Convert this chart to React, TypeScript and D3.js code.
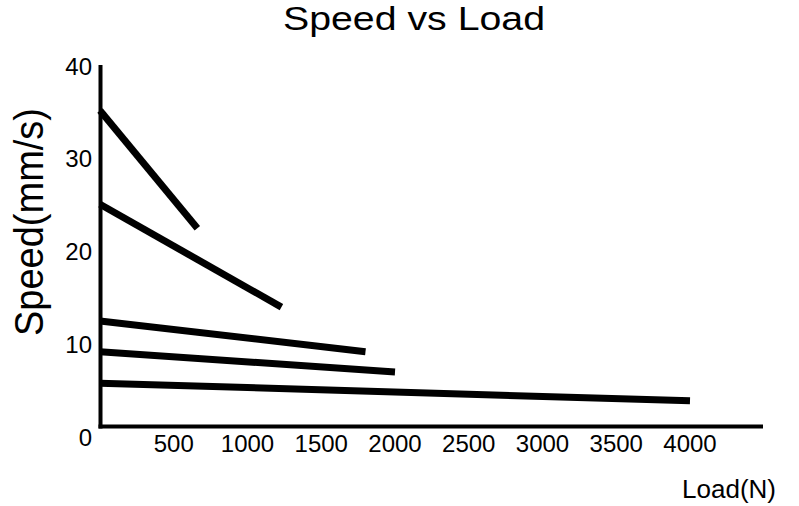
import React from "react";
import * as d3 from "d3";

const W = 799;
const H = 506;

const xTicks = [500, 1000, 1500, 2000, 2500, 3000, 3500, 4000];
const yTicks = [0, 10, 20, 30, 40];

// each line: [load start, speed start, load end, speed end]
const lineStartLoad = [0, 0, 0, 0, 0];
const lineStartSpeed = [35.2, 25.1, 12.5, 9.2, 5.8];
const lineEndLoad = [660, 1230, 1800, 2000, 4000];
const lineEndSpeed = [22.5, 14.0, 9.2, 7.0, 3.9];

const title = "Speed vs Load";
const xLabel = "Load(N)";
const yLabel = "Speed(mm/s)";

export default function App() {
  const x = d3.scaleLinear().domain([0, 4000]).range([100, 690]);
  const y = d3.scaleLinear().domain([0, 40]).range([437, 66]);
  const line = d3
    .line<[number, number]>()
    .x((d) => x(d[0]))
    .y((d) => y(d[1]));

  const font = "'Liberation Sans', Arial, sans-serif";

  return (
    <svg
      width={W}
      height={H}
      style={{ position: "absolute", left: 0, top: 0, background: "#fff" }}
      fontFamily={font}
    >
      <rect x={0} y={0} width={W} height={H} fill="#fff" />
      <text
        x={414}
        y={30}
        fontSize={34}
        textAnchor="middle"
        textLength={262}
        lengthAdjust="spacingAndGlyphs"
        fill="#000"
      >
        {title}
      </text>
      <text
        transform={`translate(43,222) rotate(-90)`}
        fontSize={41}
        textAnchor="middle"
        textLength={228}
        lengthAdjust="spacingAndGlyphs"
        fill="#000"
      >
        {yLabel}
      </text>
      <text
        x={776}
        y={498}
        fontSize={25}
        textAnchor="end"
        textLength={94}
        lengthAdjust="spacingAndGlyphs"
        fill="#000"
      >
        {xLabel}
      </text>

      {/* axes */}
      <line x1={100.5} x2={100.5} y1={65} y2={428.5} stroke="#000" strokeWidth={4} />
      <line x1={98.5} x2={763} y1={426.5} y2={426.5} stroke="#000" strokeWidth={4} />

      {yTicks.map((t) => (
        <text key={"y" + t} x={92} y={y(t) + 8.5} fontSize={24} textAnchor="end" fill="#000">
          {t}
        </text>
      ))}
      {xTicks.map((t) => (
        <text key={"x" + t} x={x(t)} y={452} fontSize={24} textAnchor="middle" fill="#000">
          {t}
        </text>
      ))}

      {lineStartSpeed.map((s, i) => (
        <path
          key={"l" + i}
          d={line([
            [lineStartLoad[i], s],
            [lineEndLoad[i], lineEndSpeed[i]],
          ]) || ""}
          fill="none"
          stroke="#000"
          strokeWidth={7}
        />
      ))}
    </svg>
  );
}
